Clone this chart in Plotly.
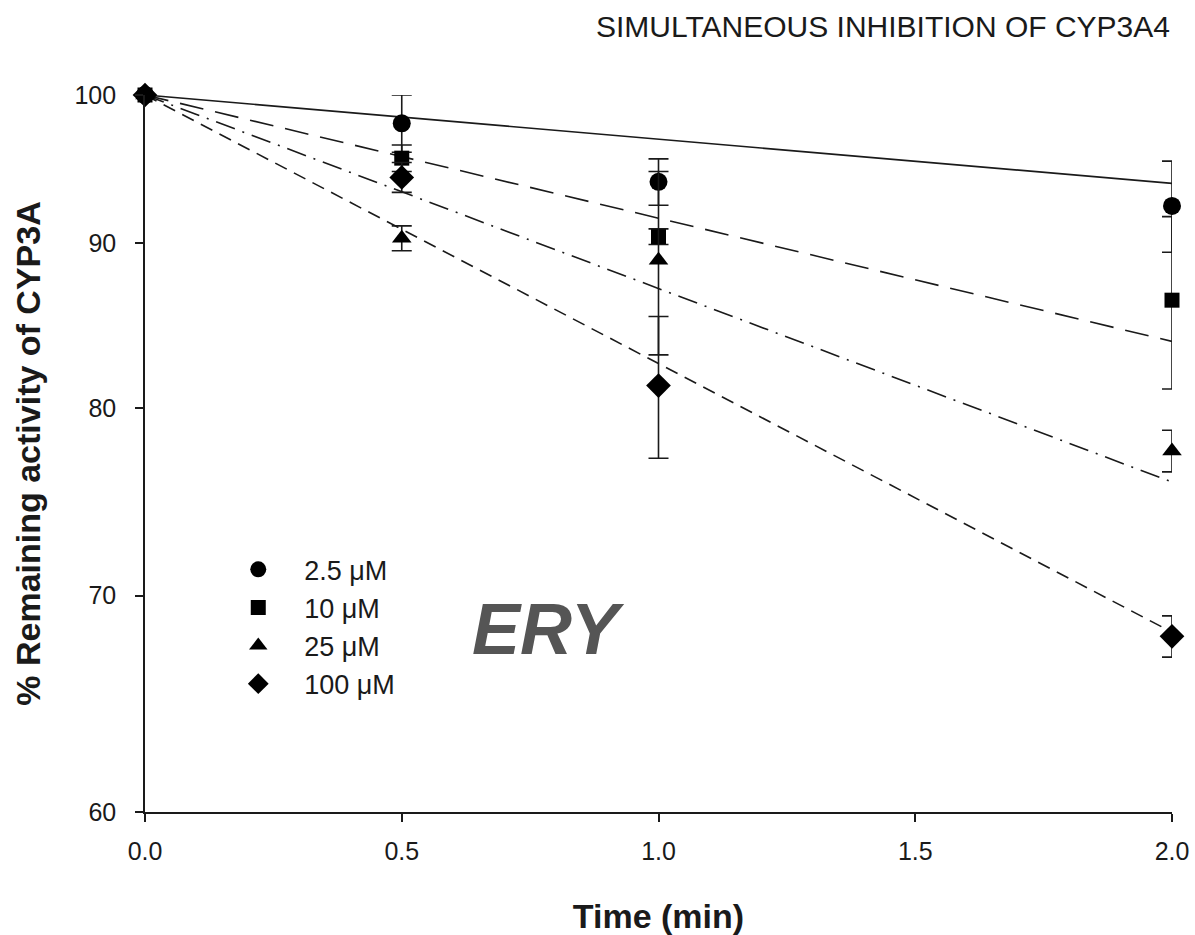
import plotly.graph_objects as go

# ---- data ----
time_min = [0.0, 0.5, 1.0, 2.0]
labels = ["2.5 \u03bcM", "10 \u03bcM", "25 \u03bcM", "100 \u03bcM"]

act_2_5 = [100.0, 98.0, 94.0, 92.4]
err_2_5 = [0.0, 2.0, 1.55, 3.0]
act_10 = [100.0, 95.6, 90.4, 86.4]
err_10 = [0.0, 0.9, 0.5, 5.3]
act_25 = [100.0, 90.3, 88.9, 77.6]
err_25 = [0.0, 0.8, 5.8, 1.15]
act_100 = [100.0, 94.3, 81.3, 68.0]
err_100 = [0.0, 1.0, 4.1, 1.0]

# exponential fits (straight on log axis): value at t=0 and at t=2
fit_t = [0.0, 2.0]
fit_2_5 = [100.0, 93.9]
fit_10 = [100.0, 83.9]
fit_25 = [100.0, 75.9]
fit_100 = [100.0, 68.2]

x_ticks = [0.0, 0.5, 1.0, 1.5, 2.0]
y_ticks = [60, 70, 80, 90, 100]

INK = "#1a1a1a"
FONT = "Liberation Sans, Arial, sans-serif"

series = [
    (labels[0], act_2_5, err_2_5, fit_2_5, "circle", 18, "solid"),
    (labels[1], act_10, err_10, fit_10, "square", 15, "24px,12px"),
    (labels[2], act_25, err_25, fit_25, "triangle-up", 17, "20px,8px,2px,8px"),
    (labels[3], act_100, err_100, fit_100, "diamond", 19, "13px,8px"),
]

fig = go.Figure()

for name, vals, errs, fit, sym, size, dash in series:
    fig.add_trace(go.Scatter(
        x=fit_t, y=fit, mode="lines",
        line=dict(color=INK, width=1.6, dash=dash),
        showlegend=False, hoverinfo="skip", cliponaxis=False,
    ))

for i, (name, vals, errs, fit, sym, size, dash) in enumerate(series):
    fig.add_trace(go.Scatter(
        x=time_min, y=vals, mode="markers", name=name,
        marker=dict(symbol=sym, size=size, color="black"),
        error_y=dict(type="data", array=errs, visible=True,
                     color=INK, thickness=1.6, width=10),
        cliponaxis=False, legendgroup=f"g{i}",
    ))

fig.update_layout(
    width=1195, height=935,
    paper_bgcolor="white", plot_bgcolor="white",
    margin=dict(l=145, r=23, t=95, b=123),
    font=dict(family=FONT, color=INK, size=25),
    showlegend=True,
    legend=dict(
        x=0.0655, y=0.372, xanchor="left", yanchor="top",
        bgcolor="rgba(0,0,0,0)", font=dict(size=27, family=FONT, color=INK),
        tracegroupgap=0, itemwidth=82,
    ),
    annotations=[
        dict(text="SIMULTANEOUS INHIBITION OF CYP3A4", xref="paper", yref="paper",
             x=1.0, y=1.0, xanchor="right", yanchor="bottom", yshift=50,
             showarrow=False, font=dict(size=30, family=FONT, color=INK)),
        dict(text="<b><i>ERY</i></b>", xref="x", yref="paper",
             x=0.785, y=0.255, xanchor="center", yanchor="middle",
             showarrow=False, font=dict(size=72, family=FONT, color="#555555")),
    ],
)

fig.update_xaxes(
    range=[0, 2.0], tickvals=x_ticks, tickformat=".1f",
    showline=True, linecolor=INK, linewidth=1.6,
    ticks="outside", ticklen=8, tickwidth=1.6, tickcolor=INK,
    showgrid=False, zeroline=False, automargin=False, ticklabelstandoff=8,
    tickfont=dict(size=25, family=FONT, color=INK),
    title=dict(text="<b>Time (min)</b>", font=dict(size=34, family=FONT, color=INK), standoff=41),
)
fig.update_yaxes(
    type="log", range=[1.77815, 2.0], tickvals=y_ticks, ticktext=[str(v) for v in y_ticks],
    showline=True, linecolor=INK, linewidth=1.6,
    ticks="outside", ticklen=8, tickwidth=1.6, tickcolor=INK,
    showgrid=False, zeroline=False, automargin=False, ticklabelstandoff=14,
    tickfont=dict(size=25, family=FONT, color=INK),
    title=dict(text="<b>% Remaining activity of CYP3A</b>", font=dict(size=34, family=FONT, color=INK), standoff=24),
)

fig.write_html("out.html", config={"displayModeBar": False},
               post_script="document.body.style.margin='0';")
